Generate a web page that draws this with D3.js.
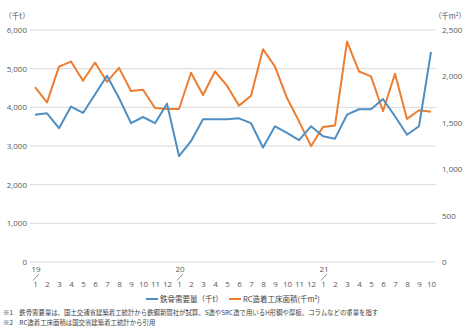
<!DOCTYPE html>
<html><head><meta charset="utf-8">
<script src="https://cdn.jsdelivr.net/npm/d3@7"></script>
<style>
html,body{margin:0;padding:0;background:#fff;}
svg{display:block;}
text{font-family:"Open Sans","Noto Sans CJK JP",sans-serif;fill:#595959;}
.jp{font-family:"Noto Sans CJK JP",sans-serif;}
.dk{fill:#404040;}
</style></head>
<body>
<script>
const months = [1,2,3,4,5,6,7,8,9,10,11,12,1,2,3,4,5,6,7,8,9,10,11,12,1,2,3,4,5,6,7,8,9,10];
const years = [{label:"19", index:0},{label:"20", index:12},{label:"21", index:24}];
const steelDemand = [3810,3845,3460,4020,3855,4330,4815,4240,3590,3750,3590,4095,
                     2740,3125,3690,3690,3690,3715,3590,2960,3510,3340,3150,3510,
                     3250,3190,3810,3950,3950,4215,3770,3290,3510,5435];
const rcFloorArea = [1885,1720,2106,2160,1953,2149,1942,2092,1842,1856,1660,1649,
                     1649,2039,1799,2053,1900,1685,1792,2293,2106,1767,1516,1248,
                     1456,1470,2375,2053,2000,1624,2028,1542,1635,1620];
const leftTicks = [0,1000,2000,3000,4000,5000,6000];
const rightTicks = [0,500,1000,1500,2000,2500];
const seriesNames = ["鉄骨需要量（千t）","RC造着工床面積(千m²)"];
const colors = ["#4f8ec2","#ed7d31"];
const notes = ["※1　鉄骨需要量は、国土交通省建築着工統計から鉄鋼新聞社が試算。S造やSRC造で用いるH形鋼や厚板、コラムなどの重量を指す",
               "※2　RC造着工床面積は国交省建築着工統計から引用"];

const W=474,H=331;
const svg=d3.select("body").append("svg").attr("width",W).attr("height",H);
const x=d3.scalePoint().domain(d3.range(months.length)).range([35,431]);
const yL=d3.scaleLinear().domain([0,6000]).range([262,30]);
const yR=d3.scaleLinear().domain([0,2500]).range([262,30]);

// gridlines
svg.append("g").selectAll("line").data(leftTicks).join("line")
  .attr("x1",30).attr("x2",436).attr("y1",d=>yL(d)).attr("y2",d=>yL(d))
  .attr("stroke","#d9d9d9").attr("stroke-width",1);

// left axis
const gl=svg.append("g").attr("transform","translate(27,0)")
  .call(d3.axisLeft(yL).tickValues(leftTicks).tickSize(0).tickPadding(0).tickFormat(d3.format(",")));
gl.select(".domain").remove();
gl.selectAll("text").attr("font-size",8).attr("fill","#595959").style("font-family","Open Sans");

const gr=svg.append("g").attr("transform","translate(442,0)")
  .call(d3.axisRight(yR).tickValues(rightTicks).tickSize(0).tickPadding(0).tickFormat(d3.format(",")));
gr.select(".domain").remove();
gr.selectAll("text").attr("font-size",8).attr("fill","#595959").style("font-family","Open Sans");

// unit labels
svg.append("text").attr("class","jp").attr("x",17).attr("y",19).attr("text-anchor","middle").attr("font-size",7.5).text("（千t）");
const ur=svg.append("text").attr("class","jp").attr("x",450).attr("y",19).attr("text-anchor","middle").attr("font-size",7.5);
ur.append("tspan").text("（千m");
ur.append("tspan").attr("font-size",5).attr("dy",-3).text("2");
ur.append("tspan").attr("dy",3).text("）");

// x axis month labels
const gx=svg.append("g").attr("transform","translate(0,284)")
  .call(d3.axisBottom(x).tickSize(0).tickPadding(0).tickFormat(i=>months[i]));
gx.select(".domain").remove();
gx.selectAll("text").attr("font-size",8).attr("fill","#595959").attr("dy","0.32em").style("font-family","Open Sans");

// year labels
const yg=svg.append("g").selectAll("g").data(years).join("g");
yg.append("text").attr("x",d=>x(d.index)+1).attr("y",272).attr("text-anchor","middle")
  .attr("font-size",8).style("font-family","Open Sans").text(d=>d.label);
yg.append("line").attr("x1",d=>x(d.index)-2).attr("x2",d=>x(d.index)+4)
  .attr("y1",280.5).attr("y2",274).attr("stroke","#595959").attr("stroke-width",0.7);

// lines
const lineL=d3.line().x((d,i)=>x(i)).y(d=>yL(d));
const lineR=d3.line().x((d,i)=>x(i)).y(d=>yR(d));
svg.append("path").datum(rcFloorArea).attr("d",lineR).attr("fill","none")
  .attr("stroke",colors[1]).attr("stroke-width",2).attr("stroke-linejoin","round");
svg.append("path").datum(steelDemand).attr("d",lineL).attr("fill","none")
  .attr("stroke",colors[0]).attr("stroke-width",2).attr("stroke-linejoin","round");

// legend
const lg=[{x:146,name:seriesNames[0],c:colors[0]},{x:229,name:seriesNames[1],c:colors[1]}];
lg.forEach(d=>{
  svg.append("line").attr("x1",d.x).attr("x2",d.x+12).attr("y1",299).attr("y2",299)
    .attr("stroke",d.c).attr("stroke-width",2);
});
svg.append("text").attr("class","jp dk").attr("x",160).attr("y",302).attr("font-size",7.5).text(seriesNames[0]);
const t2=svg.append("text").attr("class","jp dk").attr("x",243).attr("y",302).attr("font-size",7.5);
t2.append("tspan").text("RC造着工床面積(千m");
t2.append("tspan").attr("font-size",5).attr("dy",-3).text("2");
t2.append("tspan").attr("dy",3).text(")");

// notes
svg.append("text").attr("class","jp dk").attr("x",3).attr("y",315).attr("font-size",6.4).text(notes[0]);
svg.append("text").attr("class","jp dk").attr("x",3).attr("y",325).attr("font-size",6.4).text(notes[1]);
</script>
</body></html>
